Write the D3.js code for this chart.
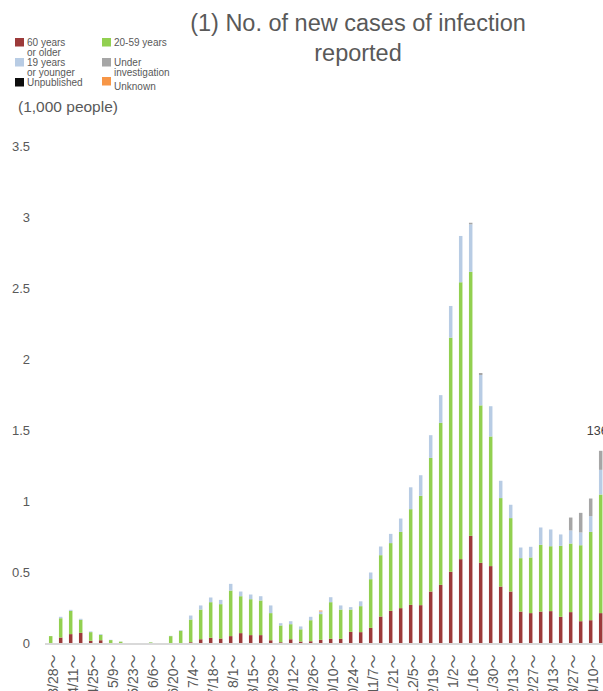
<!DOCTYPE html>
<html lang="en">
<head>
	<meta charset="UTF-8">
	<title>No. of new cases of infection reported</title>
	<style>
		body { margin: 0; background: #fff; }
		svg { display: block; font-family: "Liberation Sans", Arial, sans-serif; }
		.title { fill: #595959; font-size: 23.5px; }
		.legend text { fill: #595959; font-size: 10px; }
		.unit { fill: #595959; font-size: 15.5px; }
		.yaxis text { fill: #595959; font-size: 13px; }
		.xaxis text { fill: #595959; font-size: 14px; font-family: "Liberation Sans", "Noto Sans CJK JP", sans-serif; }
		.xaxis path { stroke: #d9d9d9; stroke-width: 2px; }
		.total { fill: #404040; font-size: 12.5px; }
	</style>
	<script src="https://cdn.jsdelivr.net/npm/d3@7"></script>
</head>
<body>
	<div class="wrap"></div>
	<script>
	// week starting dates (2020/3/28 ~ 2021/4/17)
	var weeks = ["3/28","4/4","4/11","4/18","4/25","5/2","5/9","5/16","5/23","5/30",
		"6/6","6/13","6/20","6/27","7/4","7/11","7/18","7/25","8/1","8/8",
		"8/15","8/22","8/29","9/5","9/12","9/19","9/26","10/3","10/10","10/17",
		"10/24","10/31","11/7","11/14","11/21","11/28","12/5","12/12","12/19","12/26",
		"1/2","1/9","1/16","1/23","1/30","2/6","2/13","2/20","2/27","3/6",
		"3/13","3/20","3/27","4/3","4/10","4/17"];

	// thousands of people, per age group
	var older = [0,.042,.066,.075,.019,.023,.002,.001,0,0,
		0,0,.001,.003,.009,.030,.040,.035,.052,.073,
		.059,.059,.023,.009,.030,.014,.016,.026,.033,.033,
		.082,.080,.110,.190,.230,.249,.272,.270,.366,.413,
		.505,.594,.758,.568,.545,.401,.366,.225,.214,.225,
		.228,.188,.221,.157,.164,.214];
	var middle = [.052,.136,.164,.092,.061,.038,.022,.012,.002,.001,
		.008,.002,.051,.087,.160,.209,.251,.242,.321,.260,
		.253,.244,.191,.118,.106,.086,.148,.181,.258,.206,
		.157,.183,.343,.432,.477,.537,.674,.770,.941,1.141,
		1.649,1.950,1.860,1.109,.913,.623,.517,.376,.392,.470,
		.457,.500,.483,.535,.622,.835];
	var young = [0,.010,.007,.007,.005,.005,.002,.001,0,0,
		.001,0,.002,.004,.028,.029,.033,.030,.047,.033,
		.033,.030,.054,.016,.021,.020,.024,.019,.035,.029,
		.017,.034,.047,.061,.065,.094,.154,.145,.160,.195,
		.223,.326,.334,.214,.213,.122,.094,.075,.075,.122,
		.118,.080,.092,.090,.111,.174];
	var investigating = [0,0,0,0,0,0,0,0,0,0,
		0,0,0,0,0,0,0,0,0,0,
		0,0,0,0,0,0,0,0,0,0,
		0,0,0,0,0,0,0,0,0,0,
		0,0,.011,.014,0,0,0,0,0,0,
		0,0,.091,.138,.124,.134];
	var unknown = [0,0,0,0,0,0,0,0,0,0,
		0,0,0,0,0,0,0,0,0,0,
		0,0,0,0,0,0,0,.006,0,0,
		0,0,0,0,0,0,0,0,0,0,
		0,0,0,0,0,0,0,0,0,0,
		0,0,0,0,0,0];
	var unpublished = [0,0,0,0,0,0,0,0,0,0,
		0,0,0,0,0,0,0,0,0,0,
		0,0,0,0,0,0,0,0,0,0,
		0,0,0,0,0,0,0,0,0,0,
		0,0,0,0,0,0,0,0,0,0,
		0,0,0,0,0,0];
	var yTicks = [0, 0.5, 1, 1.5, 2, 2.5, 3, 3.5];
	var lastLabel = "1361";

	var keys = ["older", "middle", "young", "investigating", "unknown", "unpublished"];
	var colors = {
		older: "#9c3a3a", middle: "#92d050", young: "#b8cce4",
		investigating: "#a6a6a6", unknown: "#f79646", unpublished: "#0d0d0d"
	};
	var legendItems = [
		{key: "older", lines: ["60 years", "or older"]},
		{key: "middle", lines: ["20-59 years"]},
		{key: "young", lines: ["19 years", "or younger"]},
		{key: "investigating", lines: ["Under", "investigation"]},
		{key: "unpublished", lines: ["Unpublished"]},
		{key: "unknown", lines: ["Unknown"]}
	];

	var width = 603, height = 691;

	// build the table for d3.stack
	var table = weeks.map(function(w, i) {
		return {week: w, older: older[i], middle: middle[i], young: young[i],
			investigating: investigating[i], unknown: unknown[i], unpublished: unpublished[i]};
	});

	var x = d3.scaleBand().domain(weeks)
		.range([45.7, 605.7]).paddingInner(0.65).paddingOuter(0.325);
	var y = d3.scaleLinear().domain([0, 3.5]).range([643.5, 146.5]);

	var svg = d3.select(".wrap").append("svg")
		.attr("width", width)
		.attr("height", height);

	// title
	svg.append("text").attr("class", "title")
		.attr("x", 358).attr("y", 31).attr("text-anchor", "middle")
		.text("(1) No. of new cases of infection");
	svg.append("text").attr("class", "title")
		.attr("x", 358).attr("y", 61).attr("text-anchor", "middle")
		.text("reported");

	// legend
	var legend = svg.append("g").attr("class", "legend");
	legendItems.forEach(function(d, i) {
		var lx = (i % 2 === 0) ? 15 : 102,
			ly = 38 + Math.floor(i / 2) * 20;
		if (d.key === "unknown") ly = 77;
		legend.append("rect")
			.attr("x", lx).attr("y", ly)
			.attr("width", 9).attr("height", 8.5)
			.attr("fill", colors[d.key]);
		var t = legend.append("text")
			.attr("x", lx + 12).attr("y", ly + 4 + (d.key === "unknown" ? 5 : 0))
			.attr("dy", "0.35em");
		d.lines.forEach(function(line, j) {
			t.append("tspan").attr("x", lx + 12).attr("dy", j === 0 ? "0.35em" : "10px").text(line);
		});
	});

	svg.append("text").attr("class", "unit")
		.attr("x", 18).attr("y", 112)
		.text("(1,000 people)");

	// Y axis (labels only)
	var yAxis = svg.append("g").attr("class", "yaxis")
		.attr("transform", "translate(30,0)")
		.call(d3.axisLeft(y).tickValues(yTicks).tickSize(0).tickPadding(0)
			.tickFormat(d3.format("")));
	yAxis.select(".domain").remove();

	// stacked bars
	var series = d3.stack().keys(keys)(table);
	svg.append("g").selectAll("g")
		.data(series).enter().append("g")
		.attr("fill", function(d) { return colors[d.key]; })
		.selectAll("rect")
		.data(function(d) { return d; }).enter().append("rect")
		.attr("x", function(d) { return x(d.data.week); })
		.attr("y", function(d) { return y(d[1]); })
		.attr("width", x.bandwidth())
		.attr("height", function(d) { return y(d[0]) - y(d[1]); });

	// X axis, every second week labelled
	var xAxis = svg.append("g").attr("class", "xaxis")
		.attr("transform", "translate(0," + y(0) + ")")
		.call(d3.axisBottom(x).tickSize(0).tickSizeOuter(0)
			.tickValues(weeks.filter(function(d, i) { return i % 2 === 0; }))
			.tickFormat(function(d) { return d + "～"; }));
	xAxis.select(".domain").attr("d", "M45,0.5H603");
	xAxis.selectAll("text")
		.attr("text-anchor", "end")
		.attr("x", -11)
		.attr("y", 2)
		.attr("dy", "0.35em")
		.attr("transform", "rotate(-90)");

	// total label over the last week
	var last = table[table.length - 1];
	var lastTotal = d3.sum(keys, function(k) { return last[k]; });
	svg.append("text").attr("class", "total")
		.attr("x", x(last.week) + x.bandwidth() / 2)
		.attr("y", y(lastTotal) - 16)
		.attr("text-anchor", "middle")
		.text(lastLabel);
	</script>
</body>
</html>
